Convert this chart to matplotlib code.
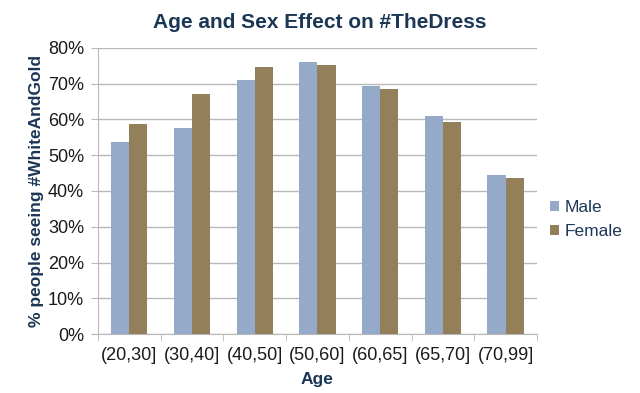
import matplotlib
matplotlib.use("Agg")
import matplotlib.pyplot as plt
import numpy as np

plt.rcParams['font.family'] = ['Liberation Sans', 'DejaVu Sans']

ages = ["(20,30]", "(30,40]", "(40,50]", "(50,60]", "(60,65]", "(65,70]", "(70,99]"]
male = [53.6, 57.5, 70.9, 76.0, 69.3, 61.0, 44.5]
female = [58.8, 67.2, 74.7, 75.2, 68.5, 59.3, 43.5]

navy = '#1c3756'
grey = '#b8b8b8'

fig = plt.figure(figsize=(6.4, 3.93), dpi=100)
ax = fig.add_axes([0.153, 0.150, 0.686, 0.728])

x = np.arange(len(ages))
w = 0.29
ax.bar(x - w/2, male, w, color='#95a9c9', label='Male', zorder=3)
ax.bar(x + w/2, female, w, color='#937f5a', label='Female', zorder=3)

ax.set_xlim(-0.5, len(ages) - 0.5)
ax.set_ylim(0, 80)
ax.set_yticks(range(0, 81, 10))
ax.set_yticklabels([f"{v}%" for v in range(0, 81, 10)])
ax.set_xticks(x)
ax.set_xticklabels(ages)
ax.set_xticks(np.arange(-0.5, len(ages)), minor=True)
ax.tick_params(axis='x', which='major', length=0, pad=9, labelsize=13, labelcolor='#1a1a1a')
ax.tick_params(axis='x', which='minor', length=5, color=grey, direction='out')
ax.tick_params(axis='y', length=5, color=grey, labelsize=13, labelcolor='#1a1a1a', pad=5)

ax.grid(axis='y', color=grey, linewidth=1, zorder=0)
for s in ['top', 'right']:
    ax.spines[s].set_visible(False)
for s in ['left', 'bottom']:
    ax.spines[s].set_color(grey)

ax.set_xlabel("Age", fontsize=12.5, fontweight='bold', color=navy, labelpad=6)
ax.set_ylabel("% people seeing #WhiteAndGold", fontsize=12.5, fontweight='bold', color=navy, labelpad=3)
fig.suptitle("Age and Sex Effect on #TheDress", fontsize=15, fontweight='bold', color=navy, y=0.968)

leg = ax.legend(loc='center left', bbox_to_anchor=(0.995, 0.40), frameon=False, fontsize=12.5,
                handlelength=0.5, handleheight=0.5, handletextpad=0.3, labelspacing=0.55)
for t in leg.get_texts():
    t.set_color(navy)

fig.savefig('out.png', dpi=100)
